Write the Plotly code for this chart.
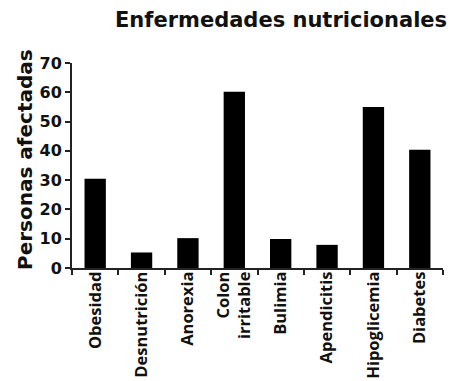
import plotly.graph_objects as go

categories = ["Obesidad", "Desnutrición", "Anorexia", "Colon<br>irritable", "Bulimia",
              "Apendicitis", "Hipoglicemia", "Diabetes"]
values = [30.5, 5.3, 10.2, 60.2, 9.9, 7.9, 55.0, 40.4]
y_ticks = [0, 10, 20, 30, 40, 50, 60, 70]

# page body has an 8px default margin, so the figure is offset by 8px
W, H = 448, 373
L, T, R, B = 64, 55, 13, 113
pw, ph = W - L - R, H - T - B

fig = go.Figure(go.Bar(x=categories, y=values, marker=dict(color="black", line=dict(width=0)),
                       width=0.46))

fig.update_layout(
    width=W, height=H,
    margin=dict(l=L, r=R, t=T, b=B),
    paper_bgcolor="white", plot_bgcolor="white",
    showlegend=False,
    annotations=[
        dict(text="Enfermedades nutricionales", xref="paper", yref="paper",
             x=(273 - L) / pw, y=(H - B - 12) / ph, xanchor="center", yanchor="middle",
             showarrow=False,
             font=dict(family="DejaVu Sans", size=21, color="#111", weight="bold")),
        dict(text="Personas afectadas", xref="paper", yref="paper", textangle=-90,
             x=(17 - L) / pw, y=(H - B - 152) / ph, xanchor="center", yanchor="middle",
             showarrow=False,
             font=dict(family="DejaVu Sans", size=20, color="#111", weight="bold")),
    ],
)
fig.update_xaxes(
    range=[-0.5, 7.5], showline=True, linecolor="#222", linewidth=2,
    ticks="outside", tickson="boundaries", ticklen=5, tickwidth=2, tickcolor="#222",
    tickangle=-90, ticklabelstandoff=-5,
    tickfont=dict(family="Open Sans", size=16.5, color="#111", weight="bold"),
    showgrid=False, zeroline=False, automargin=False,
)
fig.update_yaxes(
    range=[0, 70], tickvals=y_ticks, showline=True, linecolor="#222", linewidth=2,
    ticks="outside", ticklen=5, tickwidth=2, tickcolor="#222",
    tickfont=dict(family="DejaVu Sans", size=16, color="#111", weight="bold"),
    showgrid=False, zeroline=False, automargin=False,
)
fig.write_html("out.html")
